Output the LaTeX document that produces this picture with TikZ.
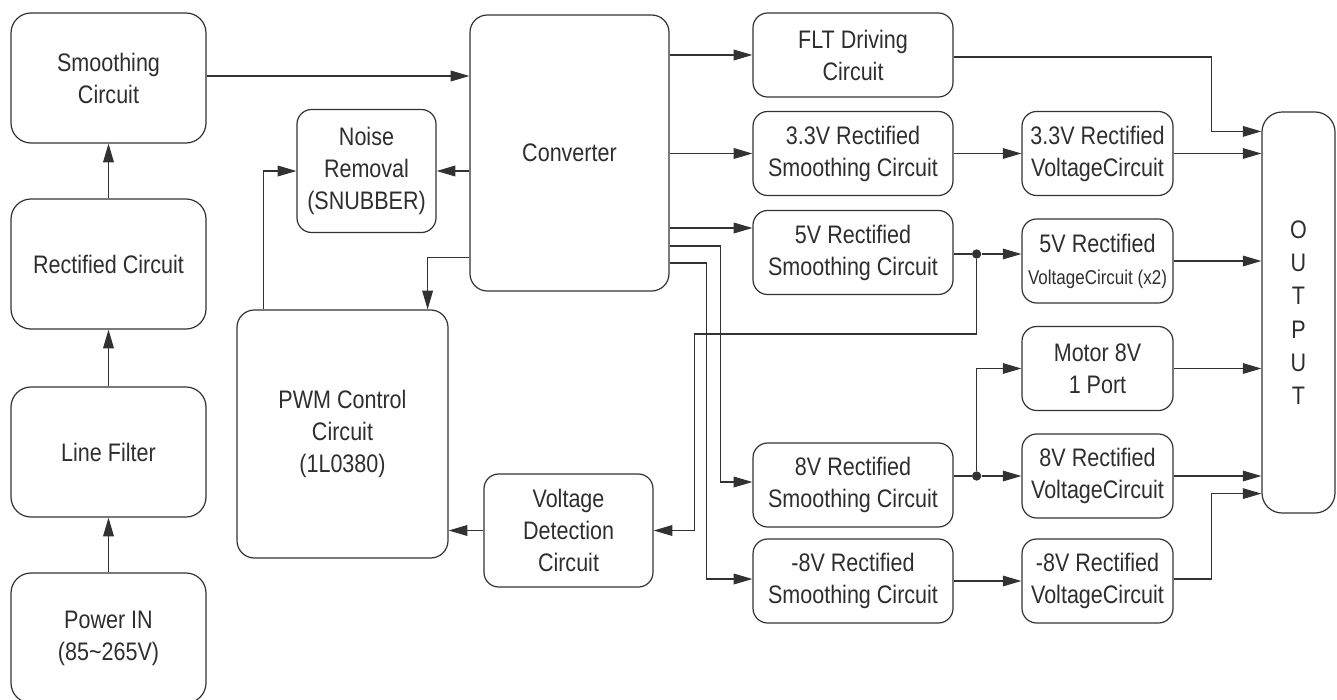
\documentclass[tikz,border=0pt]{standalone}
\usepackage{fontspec}
\setmainfont{Liberation Sans}[FakeStretch=0.85]
\usetikzlibrary{arrows.meta,calc}
\definecolor{lncol}{RGB}{50,50,50}

\tikzset{
  blk/.style={draw=lncol, line width=0.9pt, rounded corners=11pt, align=center,
    inner sep=0pt, text=black!82, font=\fontsize{19}{24}\selectfont},
  leftblk/.style={blk, rounded corners=15pt, minimum width=146.25pt, minimum height=97.5pt},
  midblk/.style={blk, minimum width=150pt, minimum height=63pt},
  rgtblk/.style={blk, minimum width=113.25pt, minimum height=63pt},
  wire/.style={draw=lncol, line width=0.9pt, -{Triangle[length=14pt,width=8pt]}},
  jdot/.style={circle, fill=lncol, inner sep=0pt, minimum size=7pt},
}

\begin{document}
\begin{tikzpicture}[x=0.75pt,y=-0.75pt]
\useasboundingbox (0,0) rectangle (1337,699);
\clip (0,0) rectangle (1337,699);

% left column
\node[leftblk] (smooth) at (108.5,78) {Smoothing\\Circuit};
\node[leftblk] (rect) at (108.5,264) {Rectified Circuit};
\node[leftblk] (lfilt) at (108.5,452) {Line Filter};
\node[leftblk] (pwrin) at (108.5,638) {Power IN\\(85\textasciitilde265V)};

% control part
\node[blk, minimum width=104.25pt, minimum height=92.25pt] (noise) at (366.5,171) {Noise\\Removal\\(SNUBBER)};
\node[blk, rounded corners=13pt, minimum width=149.25pt, minimum height=207pt] (conv) at (569.5,153) {Converter};
\node[blk, rounded corners=13pt, minimum width=158.25pt, minimum height=186pt] (pwm) at (342.5,434) {PWM Control\\Circuit\\(1L0380)};
\node[blk, minimum width=126.75pt, minimum height=84.75pt] (vdet) at (568.5,530.5) {Voltage\\Detection\\Circuit};

% rectified smoothing circuits
\node[midblk] (flt) at (853,55) {FLT Driving\\Circuit};
\node[midblk] (sm33) at (853,153.5) {3.3V Rectified\\Smoothing Circuit};
\node[midblk] (sm5) at (853,252.5) {5V Rectified\\Smoothing Circuit};
\node[midblk] (sm8) at (853,485) {8V Rectified\\Smoothing Circuit};
\node[midblk] (smn8) at (853,581) {-8V Rectified\\Smoothing Circuit};

% voltage circuits
\node[rgtblk] (vc33) at (1097.5,153.5) {3.3V Rectified\\VoltageCircuit};
\node[rgtblk] (vc5) at (1097.5,261) {5V Rectified\\{\fontsize{15}{24}\selectfont VoltageCircuit (x2)}};
\node[rgtblk] (motor) at (1097.5,368.5) {Motor 8V\\1 Port};
\node[rgtblk] (vc8) at (1097.5,476) {8V Rectified\\VoltageCircuit};
\node[rgtblk] (vcn8) at (1097.5,581) {-8V Rectified\\VoltageCircuit};

\node[blk, rounded corners=15pt, minimum width=54.75pt, minimum height=300.75pt,
  font=\fontsize{19}{25}\selectfont] (out) at (1298.5,312.5) {O\\U\\T\\P\\U\\T};

% power path
\draw[wire] (pwrin) -- (lfilt);
\draw[wire] (lfilt) -- (rect);
\draw[wire] (rect) -- (smooth);
\draw[wire] ($(smooth.east)+(0,-2)$) -- ($(conv.west |- smooth.east)+(0,-2)$);

% converter and control
\draw[wire] (conv.west |- noise.east) -- (noise.east);
\draw[wire] ($(pwm.north west)+(27,0)$) |- (noise.west);
\draw[wire] ($(conv.south west)+(0,-34)$) -| ($(pwm.north east)+(-21,0)$);
\draw[wire] (vdet.west) -- (vdet.west -| pwm.east);

% converter outputs
\draw[wire] (conv.east |- flt.west) -- (flt.west);
\draw[wire] (conv.east |- sm33.west) -- (sm33.west);
\draw[wire] ($(conv.east)+(0,75)$) -- ($(sm5.west)+(0,-24.5)$);
\draw[wire] ($(conv.east)+(0,93)$) -| ($(sm8.west)+(-32,-3)$) -- ($(sm8.west)+(0,-3)$);
\draw[wire] ($(conv.east)+(0,110)$) -| ($(smn8.west)+(-46,-2)$) -- ($(smn8.west)+(0,-2)$);

% junctions
\coordinate (j5) at ($(sm5.east)+(23,1.5)$);
\coordinate (j8) at (vc8.west -| j5);
\node[jdot] (d5) at (j5) {};
\node[jdot] (d8) at (j8) {};

\draw[wire] (sm33) -- (vc33);
\draw[draw=lncol, line width=0.9pt] (sm5.east |- j5) -- (d5);
\draw[wire] (d5) -- (vc5.west |- d5);
\draw[wire] (d5) |- ($(vdet.east)+(41,-196.5)$) |- (vdet.east);
\draw[draw=lncol, line width=0.9pt] (sm8.east |- d8) -- (d8);
\draw[wire] (d8) -- (vc8.west);
\draw[wire] (d8) |- (motor.west);
\draw[wire] (smn8) -- (vcn8);

% into output
\draw[wire] ($(flt.east)+(0,2)$) -| ($(out.north west)+(-50,20)$) -- ($(out.north west)+(0,20)$);
\draw[wire] (vc33.east) -- (vc33.east -| out.west);
\draw[wire] (vc5.east) -- (vc5.east -| out.west);
\draw[wire] (motor.east) -- (motor.east -| out.west);
\draw[wire] (vc8.east) -- (vc8.east -| out.west);
\draw[wire] ($(vcn8.east)+(0,-2)$) -| ($(out.south west)+(-50,-20)$) -- ($(out.south west)+(0,-20)$);

\end{tikzpicture}
\end{document}
